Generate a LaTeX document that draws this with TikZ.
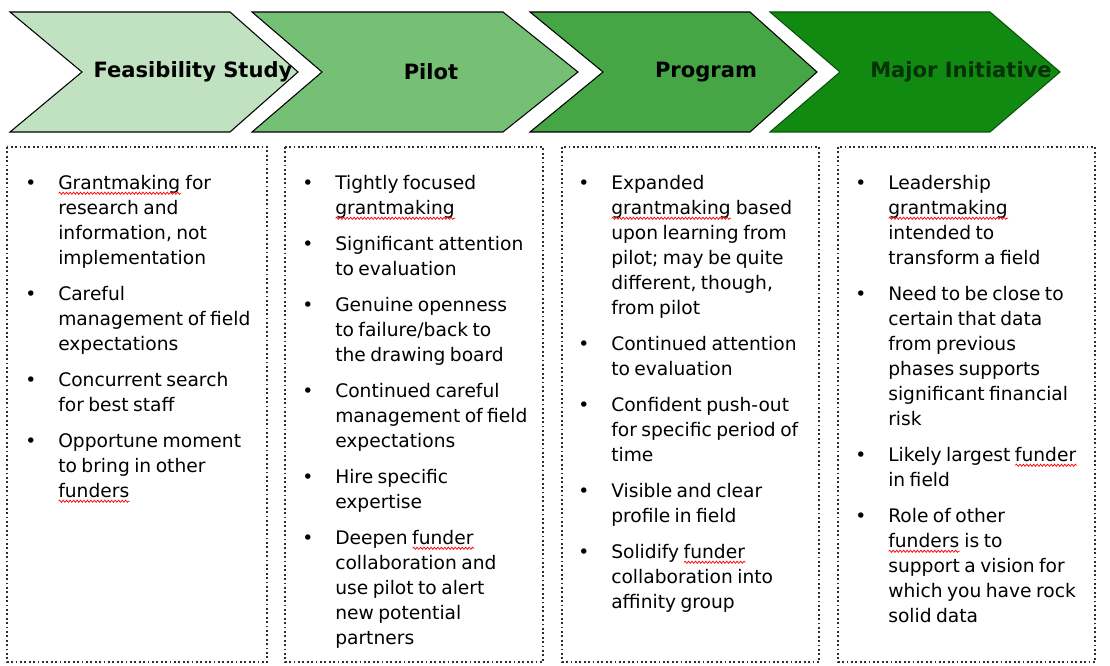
\documentclass[tikz,border=0pt]{standalone}
\usepackage{fontspec}
\setmainfont{DejaVu Sans}
\usepackage{xcolor}
\usepackage{enumitem}
\usetikzlibrary{positioning,decorations.pathmorphing}
\definecolor{phaseone}{RGB}{192,226,192}
\definecolor{phasetwo}{RGB}{118,192,118}
\definecolor{phasethree}{RGB}{70,166,70}
\definecolor{phasefour}{RGB}{16,138,16}
\definecolor{dotgray}{RGB}{45,45,45}
\newsavebox{\spellbox}
\newcommand{\spell}[1]{\leavevmode\sbox{\spellbox}{#1}\rlap{\usebox{\spellbox}}\tikz[baseline=0pt, x=1pt, y=1pt]\draw[red, line width=0.55pt, decorate, decoration={snake, amplitude=0.8pt, segment length=2.6pt}] (0pt,-3pt) -- (\wd\spellbox,-3pt);}
\newcommand{\phaselist}{\fontsize{14}{18.75}\selectfont}
\setlist[itemize]{label=\textbullet, leftmargin=24.75pt, labelwidth=10pt, labelsep=14.75pt, align=left, topsep=0pt, partopsep=0pt, parsep=0pt, itemsep=8.25pt}
\tikzset{
  chevron/.style={draw=black, line width=0.8pt},
  phasetitle/.style={font=\fontsize{15.8}{18}\selectfont\bfseries, inner sep=0pt},
  listbox/.style={draw=dotgray, line width=2pt, dash pattern=on 1.4pt off 1.9pt},
  listtext/.style={anchor=north west, inner sep=0pt, text width=185pt, align=left}
}
\begin{document}
\begin{tikzpicture}[x=0.75pt, y=-0.75pt]
  \useasboundingbox (0,0) rectangle (1110,666);

  % Phase arrows
  \draw[chevron, fill=phaseone] (10,12) -- (230,12) -- (298,72) -- (230,132) -- (10,132) -- (82,72) -- cycle;
  \draw[chevron, fill=phasetwo] (252,12) -- (503,12) -- (578,72) -- (503,132) -- (252,132) -- (322,72) -- cycle;
  \draw[chevron, fill=phasethree] (530,12) -- (750,12) -- (817,72) -- (750,132) -- (530,132) -- (603,72) -- cycle;
  \draw[chevron, draw=phasefour!60!black, fill=phasefour] (770,12) -- (990,12) -- (1060,72) -- (990,132) -- (770,132) -- (840,72) -- cycle;

  \node[phasetitle] (feasibility) at (193,72) {Feasibility Study};
  \node[phasetitle] (pilot) at (431,72) {Pilot};
  \node[phasetitle] (program) at (706,72) {Program};
  \node[phasetitle, text=phasefour!35!black] (major) at (961,72) {Major Initiative};

  % Dotted boxes
  \draw[listbox] (7,147) rectangle (267,662);
  \draw[listbox] (285,147) rectangle (543,662);
  \draw[listbox] (562,147) rectangle (819,662);
  \draw[listbox] (838,147) rectangle (1095,662);

  % Feasibility study list
  \node[listtext] (feasibilitylist) at (25,164) {\phaselist
    \begin{itemize}
      \item \spell{Grantmaking} for\newline research and\newline information, not\newline implementation
      \item Careful\newline management of field\newline expectations
      \item Concurrent search\newline for best staff
      \item Opportune moment\newline to bring in other\newline \spell{funders}
    \end{itemize}};

  % Pilot list
  \node[listtext] (pilotlist) at (302,164) {\phaselist
    \begin{itemize}
      \item Tightly focused\newline \spell{grantmaking}
      \item Significant attention\newline to evaluation
      \item Genuine openness\newline to failure/back to\newline the drawing board
      \item Continued careful\newline management of field\newline expectations
      \item Hire specific\newline expertise
      \item Deepen \spell{funder}\newline collaboration and\newline use pilot to alert\newline new potential\newline partners
    \end{itemize}};

  % Program list
  \node[listtext] (programlist) at (578,164) {\phaselist
    \begin{itemize}
      \item Expanded\newline \spell{grantmaking} based\newline upon learning from\newline pilot; may be quite\newline different, though,\newline from pilot
      \item Continued attention\newline to evaluation
      \item Confident push-out\newline for specific period of\newline time
      \item Visible and clear\newline profile in field
      \item Solidify \spell{funder}\newline collaboration into\newline affinity group
    \end{itemize}};

  % Major initiative list
  \node[listtext] (majorlist) at (855,164) {\phaselist
    \begin{itemize}
      \item Leadership\newline \spell{grantmaking}\newline intended to\newline transform a field
      \item Need to be close to\newline certain that data\newline from previous\newline phases supports\newline significant financial\newline risk
      \item Likely largest \spell{funder}\newline in field
      \item Role of other\newline \spell{funders} is to\newline support a vision for\newline which you have rock\newline solid data
    \end{itemize}};
\end{tikzpicture}
\end{document}
